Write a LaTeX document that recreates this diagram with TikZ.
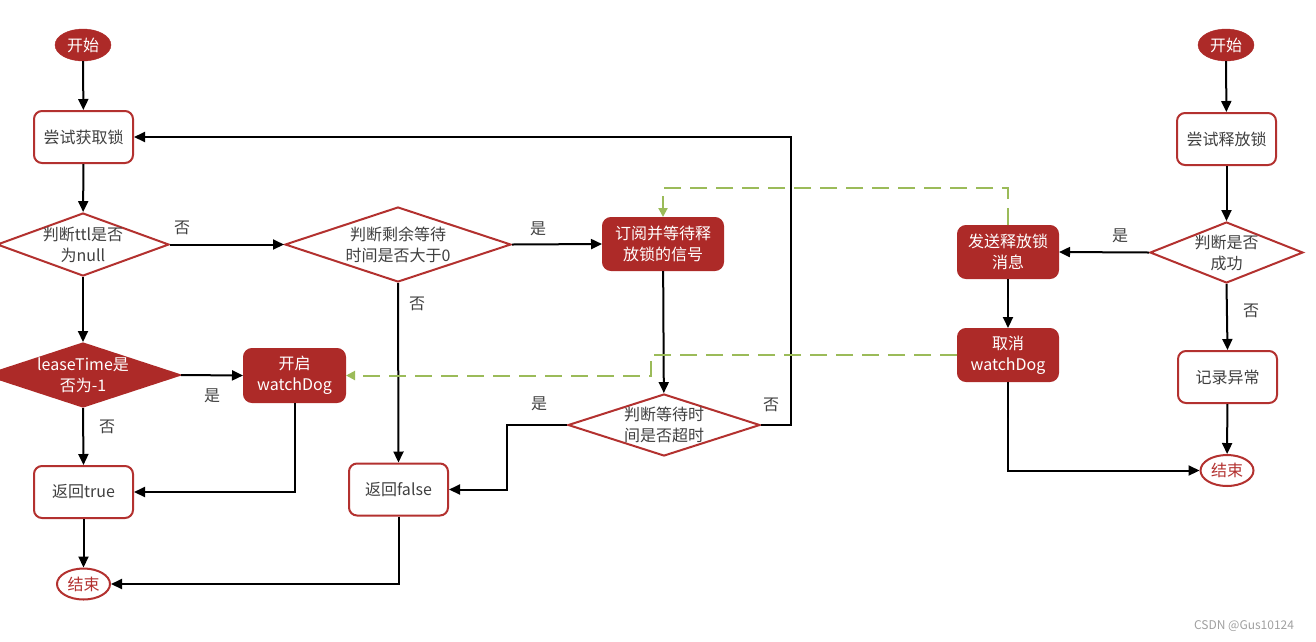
\documentclass[tikz,border=0pt]{standalone}
\usepackage{fontspec}
\setmainfont{Noto Sans CJK SC}
\usetikzlibrary{shapes.geometric,arrows.meta}
\definecolor{dred}{HTML}{AD2A28}
\definecolor{bred}{HTML}{B3312F}
\definecolor{tgray}{HTML}{404040}
\definecolor{lgreen}{HTML}{9BBB59}
\definecolor{wm}{HTML}{A0A0A0}
\begin{document}
\begin{tikzpicture}[x=1pt,y=-1pt,
  font=\fontsize{16}{21}\selectfont,
  wbox/.style={draw=bred, line width=2pt, rounded corners=8pt, fill=white, text=tgray,
    minimum width=99pt, minimum height=52pt, align=center, inner sep=2pt},
  rbox/.style={wbox, fill=dred, draw=dred, text=white},
  dia/.style={diamond, draw=bred, line width=2pt, inner sep=0pt, fill=white},
  rdia/.style={dia, fill=dred, draw=dred},
  dtxt/.style={align=center, text=tgray, inner sep=0pt},
  rdtxt/.style={align=center, text=white, inner sep=0pt},
  startell/.style={ellipse, fill=dred, draw=dred, text=white, minimum width=56pt, minimum height=32pt, inner sep=0pt},
  endell/.style={ellipse, fill=white, draw=bred, line width=2pt, text=bred, minimum width=53pt, minimum height=31pt, inner sep=0pt},
  arr/.style={-{Triangle[length=11pt,width=10pt]}, line width=2pt, black},
  garr/.style={-{Triangle[length=9pt,width=9pt]}, line width=2pt, lgreen, dash pattern=on 17pt off 9pt},
  lbl/.style={text=tgray, inner sep=0pt}
]
\useasboundingbox (0,0) rectangle (1316,641);

% left flow
\node[startell] (s1) at (83,45) {开始};
\node[wbox] (b1) at (83.5,137) {尝试获取锁};
\node[dia, minimum width=172pt, minimum height=63pt,
  label={[dtxt]center:{判断ttl是否\\为null}}] (d1) at (83,244.5) {};
\node[dia, minimum width=226pt, minimum height=75pt,
  label={[dtxt]center:{判断剩余等待\\时间是否大于0}}] (d2) at (398,244.5) {};
\node[rbox, minimum width=120pt] (sub) at (663,244) {订阅并等待释\\放锁的信号};
\node[rdia, minimum width=194pt, minimum height=64pt,
  label={[rdtxt]center:{leaseTime是\\否为-1}}] (d3) at (83,375) {};
\node[rbox, minimum width=101pt, minimum height=53pt] (wd) at (294.5,375.5) {开启\\watchDog};
\node[wbox] (rt) at (83.5,492) {返回true};
\node[endell] (e1) at (83.5,584) {结束};
\node[wbox] (rf) at (398.5,489.5) {返回false};
\node[dia, minimum width=192pt, minimum height=62pt,
  label={[dtxt]center:{判断等待时\\间是否超时}}] (d4) at (664,425) {};

% right flow
\node[startell] (s2) at (1226,45) {开始};
\node[wbox] (b2) at (1226.5,139) {尝试释放锁};
\node[dia, minimum width=153pt, minimum height=61pt,
  label={[dtxt]center:{判断是否\\成功}}] (d5) at (1226.5,252.5) {};
\node[rbox, minimum width=100pt] (send) at (1008,252) {发送释放锁\\消息};
\node[rbox, minimum width=100pt] (cancel) at (1008,355) {取消\\watchDog};
\node[wbox] (rec) at (1227.5,377) {记录异常};
\node[endell] (e2) at (1227,470.5) {结束};

% labels
\node[lbl] (l1) at (182,228) {否};
\node[lbl] (l2) at (538,229) {是};
\node[lbl] (l3) at (212,396) {是};
\node[lbl] (l4) at (107,427) {否};
\node[lbl] (l5) at (417,304) {否};
\node[lbl] (l6) at (539,404) {是};
\node[lbl] (l7) at (771,405) {否};
\node[lbl] (l8) at (1120,236) {是};
\node[lbl] (l9) at (1251,311) {否};
\node[text=wm, font=\fontsize{12}{14}\selectfont, inner sep=0pt] (wmk) at (1244,626) {CSDN @Gus10124};

% connectors
\draw[arr] (s1) -- (b1);
\draw[arr] (b1) -- (d1);
\draw[arr] (d1.east) -- (d2.west);
\draw[arr] (d2.east) -- (sub.west);
\draw[arr] (d1.south) -- (d3.north);
\draw[arr] (d3.east) -- (wd.west);
\draw[arr] (d3.south) -- (rt.north);
\draw[arr] (wd.south) |- (rt.east);
\draw[arr] (rt) -- (e1);
\draw[arr] (d2.south) -- (rf.north);
\draw[arr] (rf.south) |- (e1.east);
\draw[arr] (sub) -- (d4);
\draw[arr] (d4.west) -- ++(-60,0) |- (rf.east);
\draw[arr] (d4.east) -- ++(30,0) |- (b1.east);

\draw[arr] (s2) -- (b2);
\draw[arr] (b2) -- (d5);
\draw[arr] (d5.west) -- (send.east);
\draw[arr] (send) -- (cancel);
\draw[arr] (d5.south) -- (rec.north);
\draw[arr] (rec) -- (e2);
\draw[arr] (cancel.south) |- (e2.west);

\draw[garr] (send.north) -- ++(0,-37) -| (sub.north);
\draw[garr] (cancel.west) -- ++(-306,0) |- (wd.east);
\end{tikzpicture}
\end{document}
